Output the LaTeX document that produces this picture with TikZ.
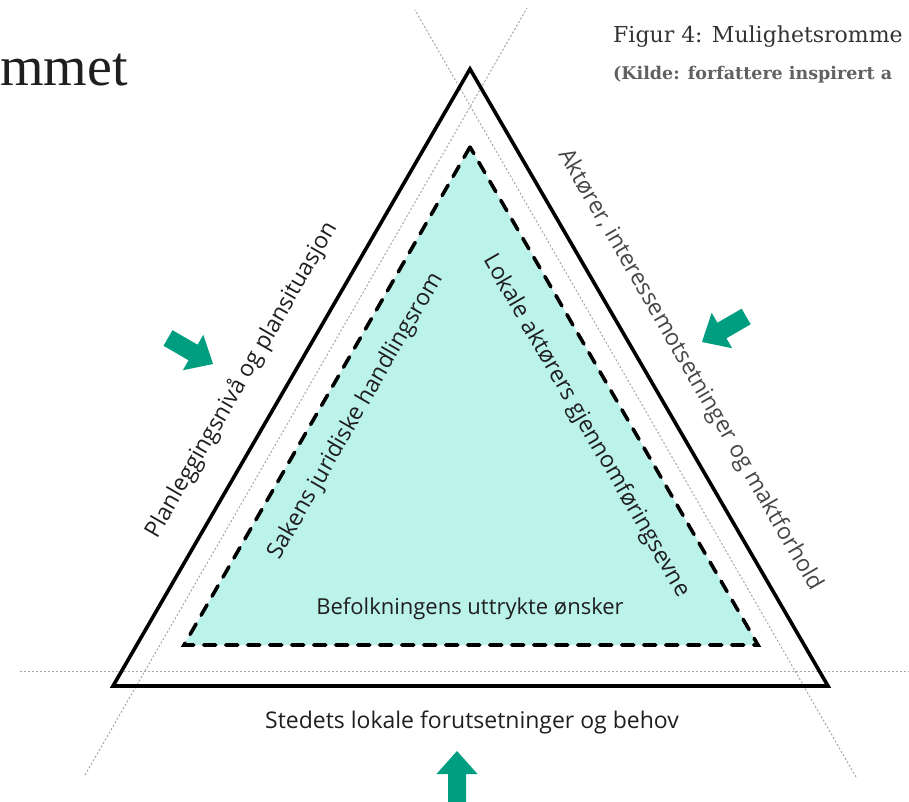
\documentclass[tikz,border=0pt]{standalone}
\usepackage{fontspec}
\setmainfont{Liberation Serif}
\newfontfamily\etikettfont{Open Sans}
\newfontfamily\figurfont{DejaVu Serif}

\definecolor{fyll}{HTML}{BBF3EA}
\definecolor{pilgronn}{HTML}{009E80}

\tikzset{
  hjelpelinje/.style={draw=black!35, line width=1pt, dash pattern=on 2pt off 2pt},
  ytre/.style={draw=black, line width=3.6pt, line join=miter},
  indre/.style={draw=black, line width=3.6pt, dash pattern=on 12pt off 10pt, line cap=round},
  etikett/.style={font=\etikettfont\fontsize{23}{27}\selectfont, text=black!88, inner sep=0pt},
  pil/.pic={\fill[pilgronn] (0,0) -- (-23,-20.5) -- (-23,-9) -- (-#1,-9) -- (-#1,9) -- (-23,9) -- (-23,20.5) -- cycle;}
}

\begin{document}
\begin{tikzpicture}[x=1pt,y=-1pt]
\useasboundingbox (0,0) rectangle (909,802);
%
% hjelpelinjer
\draw[hjelpelinje] (20,671) -- (909,671);
\draw[hjelpelinje] (85,775) -- (527,8);
\draw[hjelpelinje] (856,777) -- (415,10);

% trekanter
\coordinate (otopp) at (470,69); \coordinate (ovenstre) at (113,686); \coordinate (ohoyre) at (828,686);
\coordinate (itopp) at (470,147); \coordinate (ivenstre) at (184,645); \coordinate (ihoyre) at (758,645);
\fill[fyll] (itopp) -- (ivenstre) -- (ihoyre) -- cycle;
\draw[indre] (itopp) -- (ivenstre) -- (ihoyre) -- cycle;
\draw[ytre] (otopp) -- (ovenstre) -- (ohoyre) -- cycle;

% piler
\pic[rotate=-30] (pilvenstre) at (213,364) {pil=52};
\pic[rotate=210] (pilhoyre) at (702,342) {pil=51};
\pic[rotate=90] (pilbunn) at (457,751) {pil=60};

% tekst langs sidene
\node[etikett, rotate=60] (plan) at (242,380) {Planleggingsnivå og plansituasjon};
\node[etikett, rotate=-60, text=black!72] (aktor) at (690,370) {Aktører, interessemotsetninger og maktforhold};
\node[etikett, rotate=60] (sak) at (356,416) {Sakens juridiske handlingsrom};
\node[etikett, rotate=-60] (lokal) at (586,426) {Lokale aktørers gjennomføringsevne};
\node[etikett, font=\etikettfont\fontsize{22}{26}\selectfont] (befolk) at (470,609) {Befolkningens uttrykte ønsker};
\node[etikett] (sted) at (472,722) {Stedets lokale forutsetninger og behov};

% overskrift
\node[anchor=base east, font=\fontsize{56}{60}\selectfont, text=black!88, inner sep=0pt] (tittel) at (128,86) {mmet};
\node[anchor=base west, font=\figurfont\fontsize{22}{26}\selectfont, text=black!80, inner sep=0pt] (figur) at (613,43) {Figur 4: Mulighetsromme};
\node[anchor=base west, font=\figurfont\bfseries\fontsize{17.5}{21}\selectfont, text=black!62, inner sep=0pt] (kilde) at (613,80) {(Kilde: forfattere inspirert a};
\end{tikzpicture}
\end{document}
